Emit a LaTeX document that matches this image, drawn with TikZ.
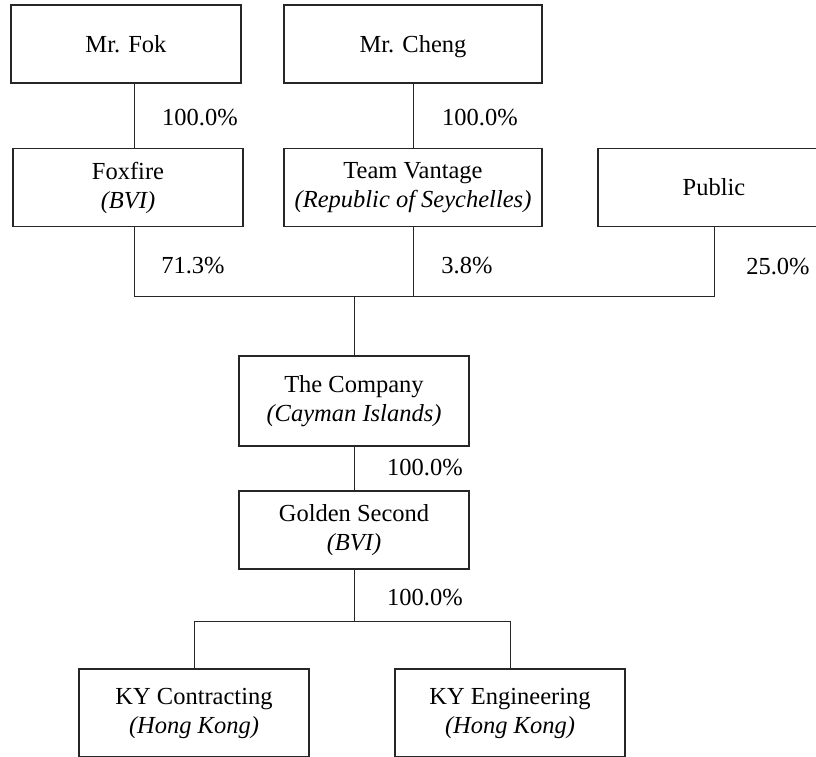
\documentclass[tikz,border=0pt]{standalone}
\usepackage{fontspec}
\setmainfont{Liberation Serif}
\begin{document}
\begin{tikzpicture}[x=1pt,y=1pt,font=\fontsize{24.5}{29}\selectfont,
  line width=1pt,draw=black!85,
  box/.style={draw=black!85,line width=1.6pt,inner sep=0pt,align=center,
    minimum width=230pt,minimum height=78pt},
  pct/.style={inner sep=0pt}]
  \useasboundingbox (0,0) rectangle (816,-756);
  \clip (0,0) rectangle (816,-756);
  % shareholders
  \node[box] (fok) at (126,-44) {Mr. Fok};
  \node[box,minimum width=258pt,text depth=0pt] (cheng) at (413,-44) {Mr. Cheng};
  \node[box] (foxfire) at (128,-187.5) {Foxfire\\\textit{(BVI)}};
  \node[box,minimum width=258pt] (team) at (413,-187.5) {Team Vantage\\\textit{(Republic of Seychelles)}};
  \node[box,minimum width=232pt] (public) at (714,-187.5) {Public};
  % group
  \node[box,minimum height=90pt] (company) at (354,-401) {The Company\\\textit{(Cayman Islands)}};
  \node[box] (golden) at (354,-530) {Golden Second\\\textit{(BVI)}};
  \node[box,minimum height=88pt] (kyc) at (194,-713) {KY Contracting\\\textit{(Hong Kong)}};
  \node[box,minimum height=88pt] (kye) at (510,-713) {KY Engineering\\\textit{(Hong Kong)}};
  % junctions
  \coordinate (jfox) at (134,-296);
  \coordinate (jteam) at (413,-296);
  \coordinate (jpub) at (714,-296);
  \coordinate (jsub) at (354,-621);
  % connectors
  \draw (fok.south -| jfox) -- (foxfire.north -| jfox);
  \draw (cheng) -- (team);
  \draw (foxfire.south -| jfox) -- (jfox) -- (jpub) -- (public);
  \draw (team) -- (jteam);
  \draw (company.north) -- (company.north |- jfox);
  \draw (company) -- (golden);
  \draw (golden) -- (jsub);
  \draw (kyc.north) |- (jsub) -| (kye.north);
  % holdings
  \node[pct] (pfok) at (200,-118) {100.0\%};
  \node[pct] (pcheng) at (480,-118) {100.0\%};
  \node[pct] (pfox) at (193,-266) {71.3\%};
  \node[pct] (pteam) at (467,-266) {3.8\%};
  \node[pct] (ppub) at (778,-267) {25.0\%};
  \node[pct] (pcomp) at (425,-468) {100.0\%};
  \node[pct] (pgold) at (425,-598) {100.0\%};
\end{tikzpicture}
\end{document}
